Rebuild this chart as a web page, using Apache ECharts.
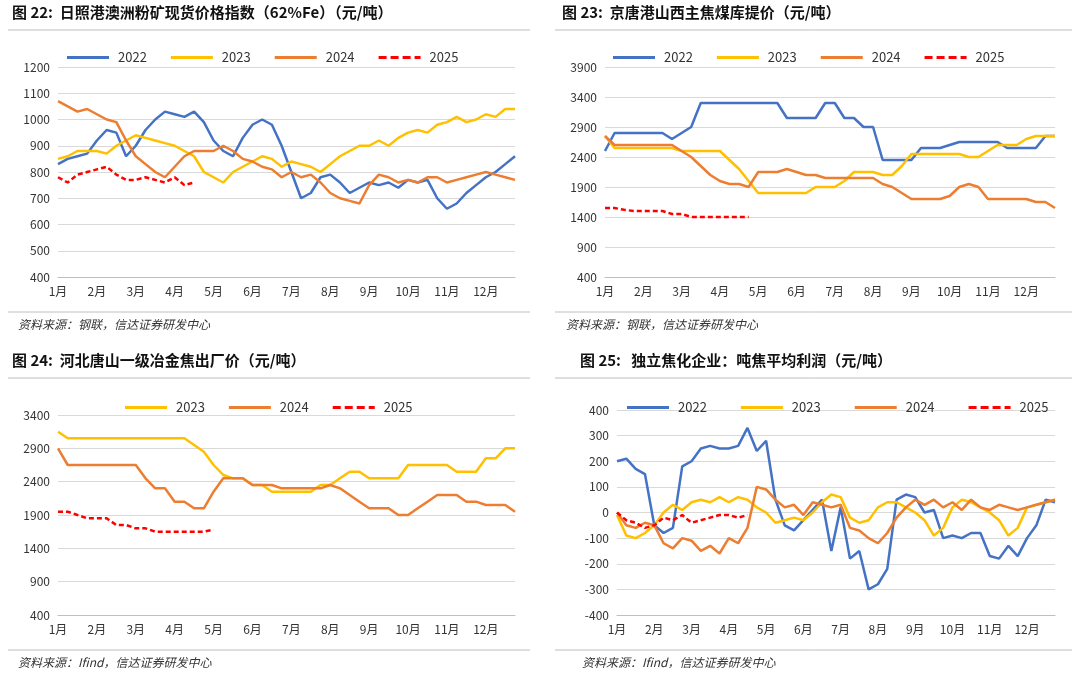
<!DOCTYPE html>
<html><head><meta charset="utf-8">
<script src="https://cdn.jsdelivr.net/npm/echarts@6/dist/echarts.min.js"></script>
<style>body{margin:0;background:#fff}#c{width:1079px;height:677px}</style></head>
<body><div id="c"></div>
<script>
const months=['1月','2月','3月','4月','5月','6月','7月','8月','9月','10月','11月','12月'];
const years=['2022','2023','2024','2025'];
const colors={'2022':'#4472C4','2023':'#FFC000','2024':'#ED7D31','2025':'#FF0000'};
// Panel 1: iron ore (weekly)
const ore2022=[830,850,860,870,920,960,950,860,900,960,1000,1030,1020,1010,1030,990,920,880,860,930,980,1000,980,900,800,700,720,780,790,760,720,740,760,750,760,740,770,760,770,700,660,680,720,750,780,800,830,860];
const ore2023=[850,860,880,880,880,870,900,920,940,930,920,910,900,880,860,800,780,760,800,820,840,860,850,820,840,830,820,800,830,860,880,900,900,920,900,930,950,960,950,980,990,1010,990,1000,1020,1010,1040,1040];
const ore2024=[1070,1050,1030,1040,1020,1000,990,920,860,830,800,780,820,860,880,880,880,900,880,850,840,820,810,780,800,780,790,760,720,700,690,680,750,790,780,760,770,760,780,780,760,770,780,790,800,790,780,770];
const ore2025=[780,760,790,800,810,820,790,770,770,780,770,760,780,750,760];
// Panel 2: Jingtang coke
const ck2022=[2500,2800,2800,2800,2800,2800,2800,2700,2800,2900,3300,3300,3300,3300,3300,3300,3300,3300,3300,3050,3050,3050,3050,3300,3300,3050,3050,2900,2900,2350,2350,2350,2350,2550,2550,2550,2600,2650,2650,2650,2650,2650,2550,2550,2550,2550,2750,2750];
const ck2023=[2750,2550,2550,2550,2550,2550,2550,2550,2500,2500,2500,2500,2500,2350,2200,2000,1800,1800,1800,1800,1800,1800,1900,1900,1900,2000,2150,2150,2150,2100,2100,2250,2450,2450,2450,2450,2450,2450,2400,2400,2500,2600,2600,2600,2700,2750,2750,2750];
const ck2024=[2750,2600,2600,2600,2600,2600,2600,2600,2500,2400,2250,2100,2000,1950,1950,1900,2150,2150,2150,2200,2150,2100,2100,2050,2050,2050,2050,2050,2050,1950,1900,1800,1700,1700,1700,1700,1750,1900,1950,1900,1700,1700,1700,1700,1700,1650,1650,1550];
const ck2025=[1550,1550,1520,1500,1500,1500,1500,1450,1450,1400,1400,1400,1400,1400,1400,1400];
// Panel 3: Hebei Tangshan coke
const ts2023=[3150,3050,3050,3050,3050,3050,3050,3050,3050,3050,3050,3050,3050,3050,2950,2850,2650,2500,2450,2450,2350,2350,2250,2250,2250,2250,2250,2350,2350,2450,2550,2550,2450,2450,2450,2450,2650,2650,2650,2650,2650,2550,2550,2550,2750,2750,2900,2900];
const ts2024=[2900,2650,2650,2650,2650,2650,2650,2650,2650,2450,2300,2300,2100,2100,2000,2000,2250,2450,2450,2450,2350,2350,2350,2300,2300,2300,2300,2300,2350,2300,2200,2100,2000,2000,2000,1900,1900,2000,2100,2200,2200,2200,2100,2100,2050,2050,2050,1950];
const ts2025=[1950,1950,1900,1850,1850,1850,1750,1750,1700,1700,1650,1650,1650,1650,1650,1650,1680];
// Panel 4: coking profit
const pf2022=[200,210,170,150,-50,-80,-60,180,200,250,260,250,250,260,330,240,280,50,-50,-70,-30,10,50,-150,20,-180,-150,-300,-280,-220,50,70,60,0,10,-100,-90,-100,-80,-80,-170,-180,-130,-170,-100,-50,50,40];
const pf2023=[-10,-90,-100,-80,-50,0,30,10,40,50,40,60,40,60,50,20,0,-40,-30,-20,-30,0,40,70,60,-20,-40,-30,20,40,40,20,0,-30,-90,-60,20,50,40,20,0,-30,-90,-60,20,30,40,50];
const pf2024=[0,-50,-60,-40,-50,-120,-140,-100,-110,-150,-130,-160,-100,-120,-60,100,90,50,20,30,-10,40,30,20,30,-60,-70,-100,-120,-80,-20,20,50,30,50,20,40,10,50,20,10,30,20,10,20,30,40,50];
const pf2025=[0,-30,-40,-60,-50,-20,-30,-10,-40,-30,-20,-10,-10,-20,-10];

function pts(arr){return arr.map((v,i)=>[i/4,v]);}
const panels=[
 {grid:{left:58,top:67,width:457,height:210},y:[400,1200,100],legend:{top:46,left:62,gap:24},data:{'2022':ore2022,'2023':ore2023,'2024':ore2024,'2025':ore2025}},
 {grid:{left:605,top:67,width:450,height:210},y:[400,3900,500],legend:{top:46,left:608,gap:24},data:{'2022':ck2022,'2023':ck2023,'2024':ck2024,'2025':ck2025}},
 {grid:{left:58,top:415,width:457,height:200},y:[400,3400,500],legend:{top:396,left:120,gap:24},data:{'2023':ts2023,'2024':ts2024,'2025':ts2025}},
 {grid:{left:617,top:410,width:438,height:205},y:[-400,400,100],legend:{top:396,left:622,gap:34},data:{'2022':pf2022,'2023':pf2023,'2024':pf2024,'2025':pf2025}}
];
const opt={animation:false,grid:[],xAxis:[],yAxis:[],series:[],legend:[],graphic:[]};
const font='"Noto Sans CJK SC", sans-serif';
panels.forEach((p,k)=>{
 opt.grid.push(p.grid);
 opt.xAxis.push({type:'value',gridIndex:k,min:0,max:11.75,interval:1,axisTick:{show:false},splitLine:{show:false},
  axisLine:{onZero:false,lineStyle:{color:'#bfbfbf'}},axisLabel:{color:'#333',fontSize:12,fontFamily:font,showMaxLabel:false,formatter:v=>months[v]||''}});
 opt.yAxis.push({type:'value',gridIndex:k,min:p.y[0],max:p.y[1],interval:p.y[2],axisLine:{show:false},axisTick:{show:false},
  splitLine:{lineStyle:{color:'#d9d9d9'}},axisLabel:{color:'#333',fontSize:12,fontFamily:font,formatter:v=>String(v)}});
 const names=Object.keys(p.data);
 opt.legend.push({top:p.legend.top,left:p.legend.left,itemGap:p.legend.gap,itemWidth:42,itemHeight:3,icon:'rect',data:names.map(n=>n==='2025'?{name:n,icon:'path://M0,0H8V3H0ZM12,0H20V3H12ZM24,0H32V3H24ZM36,0H42V3H36Z'}:n),
   textStyle:{fontSize:13,color:'#333',fontFamily:font,padding:[0,10,0,4]},selectedMode:false});
 names.forEach(n=>opt.series.push({type:'line',name:n,xAxisIndex:k,yAxisIndex:k,data:pts(p.data[n]),showSymbol:false,
   color:colors[n],lineStyle:{width:2.5,type:n==='2025'?[5,3]:'solid',color:colors[n]}}));
});
const titles=[[12,14,'图 22:  日照港澳洲粉矿现货价格指数（62%Fe）（元/吨）'],[562,14,'图 23:  京唐港山西主焦煤库提价（元/吨）'],
 [12,362,'图 24:  河北唐山一级冶金焦出厂价（元/吨）'],[580,362,'图 25:   独立焦化企业：吨焦平均利润（元/吨）']];
titles.forEach(t=>opt.graphic.push({type:'text',left:t[0],top:t[1]-9,style:{text:t[2],font:'bold 15px '+font,fill:'#111'}}));
const src=[[18,318,'资料来源：钢联，信达证券研发中心'],[566,318,'资料来源：钢联，信达证券研发中心'],[18,656,'资料来源：Ifind，信达证券研发中心'],[582,656,'资料来源：Ifind，信达证券研发中心']];
src.forEach(t=>opt.graphic.push({type:'text',left:t[0],top:t[1],style:{text:t[2],font:'italic 12px '+font,fill:'#333'}}));
[[8,530,30],[555,1072,30],[8,530,312],[555,1072,312],[8,530,378],[555,1072,378],[8,530,650],[555,1072,650]].forEach(l=>
 opt.graphic.push({type:'line',shape:{x1:l[0],y1:l[2],x2:l[1],y2:l[2]},style:{stroke:'#bfbfbf',lineWidth:1}}));
echarts.init(document.getElementById('c')).setOption(opt);
</script></body></html>
